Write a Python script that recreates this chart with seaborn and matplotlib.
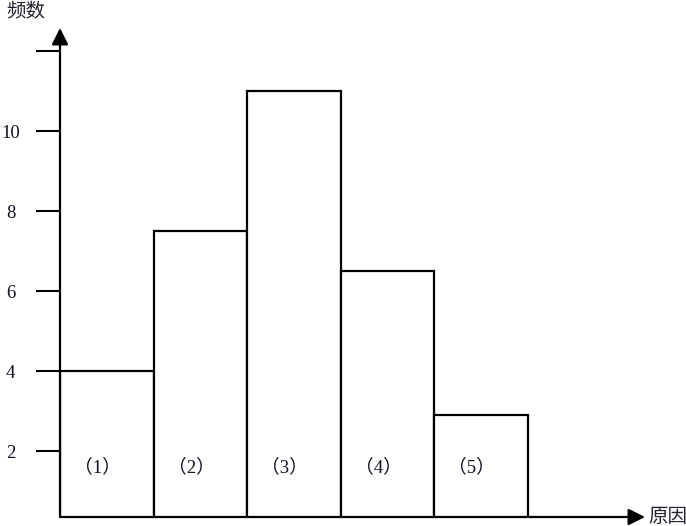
import matplotlib
matplotlib.use("Agg")
import matplotlib.pyplot as plt
import seaborn as sns

# Frequency of each cause
categories = ["（1）", "（2）", "（3）", "（4）", "（5）"]
values = [4, 7.5, 11, 6.5, 2.9]
y_ticks = [2, 4, 6, 8, 10, 12]
y_tick_labels = ["2", "4", "6", "8", "10", ""]

sns.set_theme(style="white")
plt.rcParams["font.family"] = ["Liberation Serif", "Noto Sans CJK SC", "DejaVu Sans"]

W, H = 686, 526
fig = plt.figure(figsize=(W / 100, H / 100), dpi=100)
fig.patch.set_facecolor("white")

# axes box: y axis at x=60px, baseline at y=517px, arrow tips at the far ends
left, right, bottom, top = 60, 645, 517, 28
ax = fig.add_axes([left / W, (H - bottom) / H, (right - left) / W, (bottom - top) / H])
ax.set_facecolor("white")

sns.barplot(x=categories, y=values, width=1, color="white",
            edgecolor="black", linewidth=1.6, ax=ax, zorder=2)

ax.set_xlim(-0.5, 5.75)
ax.set_ylim(0.35, 12.575)

for s in ax.spines.values():
    s.set_visible(False)

ax.set_xticks([])
ax.set_xlabel("")
ax.set_ylabel("")
ax.set_yticks(y_ticks)
ax.set_yticklabels(y_tick_labels, fontsize=13.5, color="#111122")
ax.tick_params(axis="y", direction="out", length=17.5, width=1.5,
               color="black", pad=18, left=True)
for lbl in ax.get_yticklabels():
    lbl.set_horizontalalignment("center")

# axis arrows
arrow = dict(arrowstyle="-|>,head_length=0.5,head_width=0.25", lw=1.6,
             color="black", mutation_scale=20, shrinkA=0, shrinkB=0)
ax.annotate("", xy=(1, 0), xytext=(0, 0), xycoords="axes fraction",
            arrowprops=arrow, zorder=5)
ax.annotate("", xy=(0, 1), xytext=(0, 0), xycoords="axes fraction",
            arrowprops=arrow, zorder=5)

# category labels inside the bars
for i, c in enumerate(categories):
    ax.text(i - 0.1, 1.6, c, ha="center", va="center", fontsize=13.5,
            color="#111122")

# axis titles
fig.text(26 / W, 1 - 12 / H, "频数", ha="center", va="center",
         fontsize=14, family=["Noto Sans CJK SC"], color="#222233")
fig.text(648 / W, 1 - 517 / H, "原因", ha="left", va="center",
         fontsize=14, family=["Noto Sans CJK SC"], color="#222233")

fig.savefig("out.png", dpi=100, facecolor="white")
